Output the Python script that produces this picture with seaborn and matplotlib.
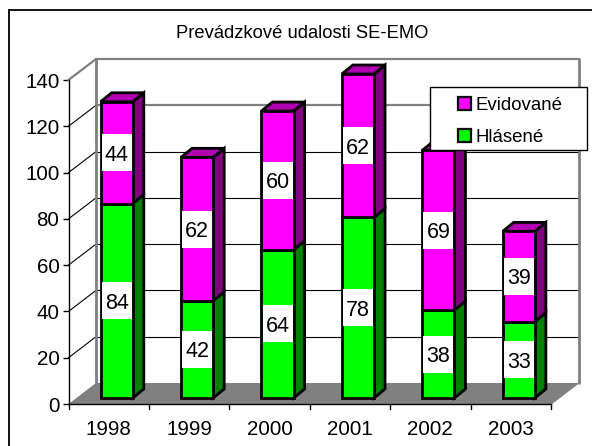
import matplotlib
matplotlib.use('Agg')
import matplotlib.pyplot as plt
import pandas as pd
import seaborn as sns
from matplotlib.lines import Line2D
from matplotlib.patches import Patch, Polygon, Rectangle
from matplotlib.transforms import Affine2D, IdentityTransform

years = ['1998', '1999', '2000', '2001', '2002', '2003']
hlasene = [84, 42, 64, 78, 38, 33]
evidovane = [44, 62, 60, 62, 69, 39]
y_ticks = [0, 20, 40, 60, 80, 100, 120, 140]

W, H = 592, 446
GREEN, GREEN_DK = '#00ff00', '#008000'
MAG, MAG_DK, MAG_TOP = '#ff00ff', '#800080', '#b000b0'

sns.set_theme(style='white')
plt.rcParams['font.family'] = ['Liberation Sans', 'DejaVu Sans']

fig = plt.figure(figsize=(W / 100, H / 100), dpi=100)
# front plane of the fake 3d box
ax = fig.add_axes([68.5 / W, 1 - 404 / H, (551 - 68.5) / W, 324 / H])
ax.patch.set_alpha(0)

df = pd.DataFrame({'year': years, 'Hlásené': hlasene, 'Evidované': evidovane})
sns.barplot(data=df, x='year', y='Hlásené', color=GREEN, width=0.4, saturation=1,
            edgecolor='black', linewidth=2, ax=ax, zorder=5)
sns.barplot(data=df, x='year', y='Evidované', bottom=df['Hlásené'], color=MAG, width=0.4, saturation=1,
            edgecolor='black', linewidth=2, ax=ax, zorder=5)
ax.set_xlim(-0.5, 5.5)
ax.set_ylim(0, 140)
ax.set_xlabel('')
ax.set_ylabel('')

# wall depth and bar offset, in pixels
WALL_X, WALL_Y = 27.5, 21
BAR_X, BAR_Y = 8, 6
DEPTH_X, DEPTH_Y = 11, 9


def px(x, v, dx=0, dy=0):
    a, b = ax.transData.transform((x, v))
    return (a + dx, b + dy)


def poly(pts, color, z, edge='none', lw=0):
    ax.add_patch(Polygon(pts, closed=True, facecolor=color, edgecolor=edge, linewidth=lw,
                         transform=IdentityTransform(), clip_on=False, zorder=z))


def line(p, q, color, lw, z=1):
    ax.add_line(Line2D([p[0], q[0]], [p[1], q[1]], color=color, lw=lw,
                       transform=IdentityTransform(), clip_on=False, zorder=z))


bars = list(ax.patches)

# floor
poly([px(-0.5, 0), px(-0.5, 0, WALL_X, WALL_Y), px(5.5, 0, WALL_X, WALL_Y), px(5.5, 0)], '#808080', 1)
line(px(5.5, 0), px(5.5, 0, WALL_X, WALL_Y), '#808080', 1)

# gridlines on the walls
for v in y_ticks[1:]:
    c = '#808080' if v >= 120 else 'black'
    lw = 1.6 if v >= 120 else 0.8
    line(px(-0.5, v, WALL_X, WALL_Y), px(5.5, v, WALL_X, WALL_Y), c, lw)
    line(px(-0.5, v), px(-0.5, v, WALL_X, WALL_Y), '#808080' if v == 140 else 'black', 1.6 if v == 140 else 0.8)
line(px(-0.5, 0, WALL_X, WALL_Y), px(-0.5, 140, WALL_X, WALL_Y), '#808080', 2)
line(px(5.5, 0, WALL_X, WALL_Y), px(5.5, 140, WALL_X, WALL_Y), '#808080', 2)

# shift the bars off the front plane, add the side and top faces
n = len(years)
shift = ax.transData + Affine2D().translate(BAR_X, BAR_Y)
for i, bar in enumerate(bars):
    is_green = i < n
    x0, x1 = bar.get_x(), bar.get_x() + bar.get_width()
    v0, v1 = bar.get_y(), bar.get_y() + bar.get_height()
    bar.set_transform(shift)
    bar.set_clip_on(False)
    a = px(x1, v0, BAR_X, BAR_Y)
    b = px(x1, v1, BAR_X, BAR_Y)
    poly([a, b, (b[0] + DEPTH_X, b[1] + DEPTH_Y), (a[0] + DEPTH_X, a[1] + DEPTH_Y)],
         GREEN_DK if is_green else MAG_DK, 4, 'black', 2)
    if not is_green:
        c = px(x0, v1, BAR_X, BAR_Y)
        poly([c, b, (b[0] + DEPTH_X, b[1] + DEPTH_Y), (c[0] + DEPTH_X, c[1] + DEPTH_Y)], MAG_TOP, 4, 'black', 2)

# value labels on white boxes
for i in range(n):
    mids = [hlasene[i] / 2, hlasene[i] + evidovane[i] / 2]
    for mid, val in zip(mids, [hlasene[i], evidovane[i]]):
        cx, cy = px(i, mid, BAR_X, BAR_Y)
        ax.add_patch(Rectangle((cx - 15, cy - 18.5), 30, 37, facecolor='white', edgecolor='none',
                               transform=IdentityTransform(), clip_on=False, zorder=6))
        ax.text(cx, cy, str(val), fontsize=15.5, ha='center', va='center_baseline', color='black',
                transform=IdentityTransform(), zorder=7)

# front axes
sns.despine(ax=ax)
ax.spines['left'].set_color('black')
ax.spines['left'].set_linewidth(1)
ax.spines['bottom'].set_color('black')
ax.spines['bottom'].set_linewidth(1)
ax.set_yticks(y_ticks)
ax.set_xticks(range(n))
ax.set_xticklabels(years)
ax.tick_params(axis='y', left=True, length=4.5, width=1, color='black', labelsize=14.8, pad=2, labelcolor='black')
ax.tick_params(axis='x', bottom=False, labelsize=14.8, pad=5.5, labelcolor='black')
for x in [i - 0.5 for i in range(n + 1)]:
    p = px(x, 0)
    line(p, (p[0], p[1] - 5), 'black', 1, 3)

fig.text(302 / W, 1 - 33 / H, 'Prevádzkové udalosti SE-EMO', fontsize=13.2, ha='center', va='center', color='black')

# outer chart border
fig.add_artist(Line2D([8.5 / W, 8.5 / W], [0, 1 - 10 / H], color='black', lw=1.3))
fig.add_artist(Line2D([8.5 / W, 1], [1 - 10 / H, 1 - 10 / H], color='black', lw=1.3))

# legend box
fig.add_artist(Rectangle((429.5 / W, 1 - 150.5 / H), 157 / W, 63.5 / H, facecolor='white', edgecolor='black',
                         lw=1, transform=fig.transFigure, zorder=10))
handles = [Patch(facecolor=MAG, edgecolor='black', lw=1.6, label='Evidované'),
           Patch(facecolor=GREEN, edgecolor='black', lw=1.6, label='Hlásené')]
leg = fig.legend(handles=handles, loc='upper left', bbox_to_anchor=(441 / W, 1 - 80 / H), frameon=False,
                 fontsize=13.4, handlelength=0.72, handleheight=0.72, handletextpad=0.25, labelspacing=0.8,
                 labelcolor='black')
leg.set_zorder(11)

fig.savefig('out.png', dpi=100)
